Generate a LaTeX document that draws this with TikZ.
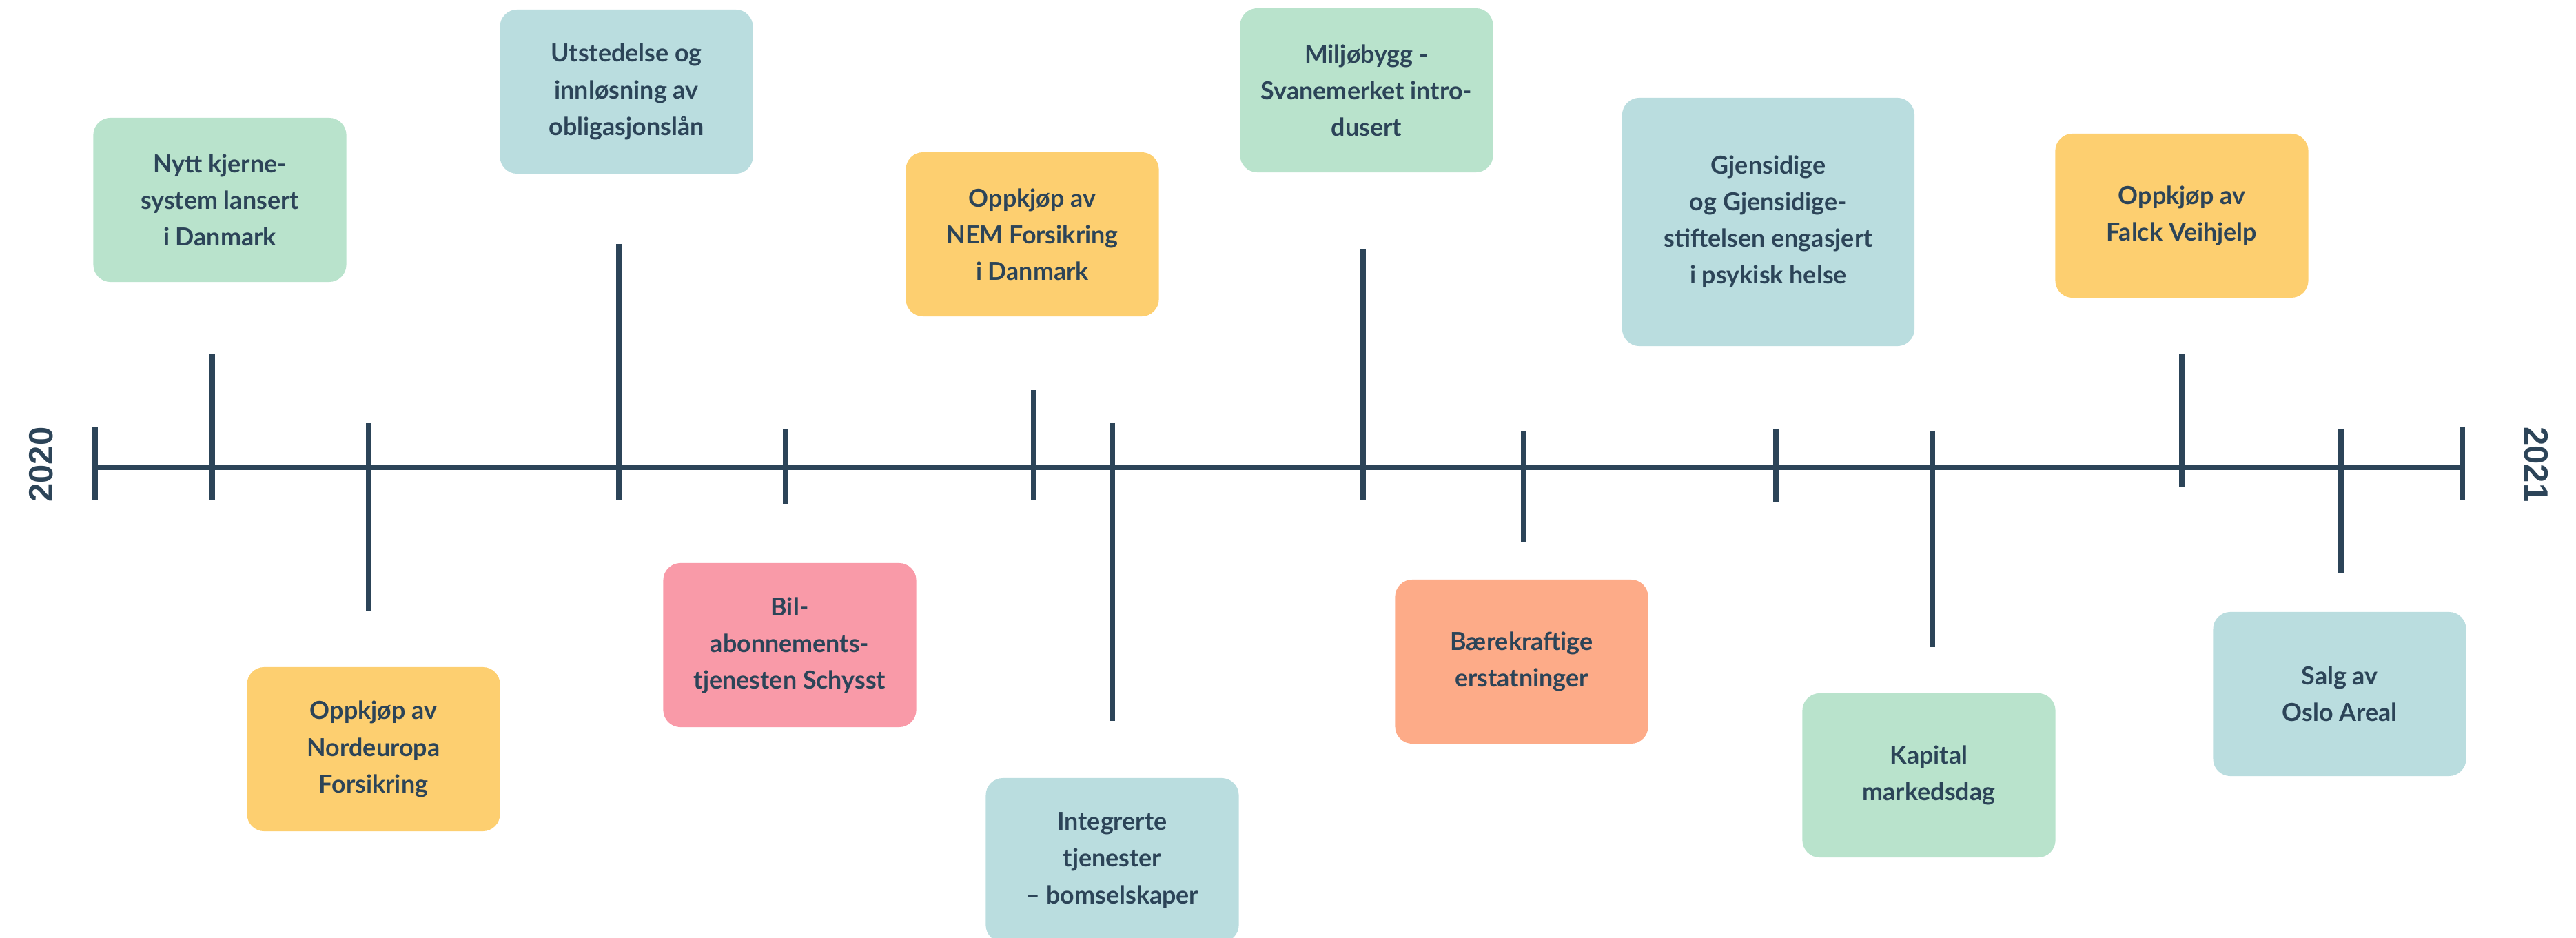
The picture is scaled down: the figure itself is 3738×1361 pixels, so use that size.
\documentclass[tikz,border=0pt]{standalone}
\usepackage{fontspec}
\setmainfont{Lato}
\newfontfamily\aarfont{Liberation Sans}

\definecolor{marine}{HTML}{2C4458}
\definecolor{mint}{HTML}{B9E3CC}
\definecolor{turkis}{HTML}{BADDDF}
\definecolor{gul}{HTML}{FDCF70}
\definecolor{rosa}{HTML}{F99AA8}
\definecolor{laks}{HTML}{FDAB88}

\begin{document}
\begin{tikzpicture}[x=0.01cm, y=-0.01cm,
        linje/.style={line width=2.1pt, marine},
        hendelse/.style={rounded corners=0.25cm, minimum width=3.67cm,
            minimum height=2.38cm, align=center, text=marine,
            font=\bfseries\fontsize{10.2}{15.1}\selectfont},
        aar/.style={text=marine, font=\aarfont\bfseries\fontsize{13.9}{14}\selectfont}]
        \useasboundingbox (0, 0) rectangle (3738, 1361);

        % Tidslinje
        \draw[linje] (138, 678) -- (3573, 678);
        \foreach \x/\a/\b in {138/620/726, 308/514/726, 535/614/886, 898/354/726,
                1140/623/731, 1500/566/726, 1614/614/1046, 1978/362/725,
                2211/626/786, 2577/622/728, 2804/625/939, 3166/514/706,
                3397/622/832, 3573/619/726}
            \draw[linje] (\x, \a) -- (\x, \b);

        % Årstall
        \node[aar, rotate=90] (start) at (60, 674) {2020};
        \node[aar, rotate=-90] (slutt) at (3680, 674) {2021};

        % Hendelser over linjen
        \node[hendelse, fill=mint] (nytt) at (319, 290)
            {Nytt kjerne-\\system lansert\\i Danmark};
        \node[hendelse, fill=turkis] (utstedelse) at (909, 133)
            {Utstedelse og\\innløsning av\\obligasjonslån};
        \node[hendelse, fill=gul] (nem) at (1498, 340)
            {Oppkjøp av\\NEM Forsikring\\i Danmark};
        \node[hendelse, fill=mint] (miljo) at (1983, 131)
            {Miljøbygg -\\Svanemerket intro-\\dusert};
        \node[hendelse, fill=turkis, minimum width=4.24cm, minimum height=3.6cm]
            (gjensidige) at (2566, 322)
            {Gjensidige\\og Gjensidige-\\stiftelsen engasjert\\i psykisk helse};
        \node[hendelse, fill=gul] (falck) at (3166, 313)
            {Oppkjøp av\\Falck Veihjelp};

        % Hendelser under linjen
        \node[hendelse, fill=gul] (nordeuropa) at (542, 1087)
            {Oppkjøp av\\Nordeuropa\\Forsikring};
        \node[hendelse, fill=rosa] (bil) at (1146, 936)
            {Bil-\\abonnements-\\tjenesten Schysst};
        \node[hendelse, fill=turkis] (integrerte) at (1614, 1248)
            {Integrerte\\tjenester\\– bomselskaper};
        \node[hendelse, fill=laks] (baerekraft) at (2208, 960)
            {Bærekraftige\\erstatninger};
        \node[hendelse, fill=mint] (kapital) at (2799, 1125)
            {Kapital\\markedsdag};
        \node[hendelse, fill=turkis] (salg) at (3395, 1007)
            {Salg av\\Oslo Areal};
\end{tikzpicture}
\end{document}
